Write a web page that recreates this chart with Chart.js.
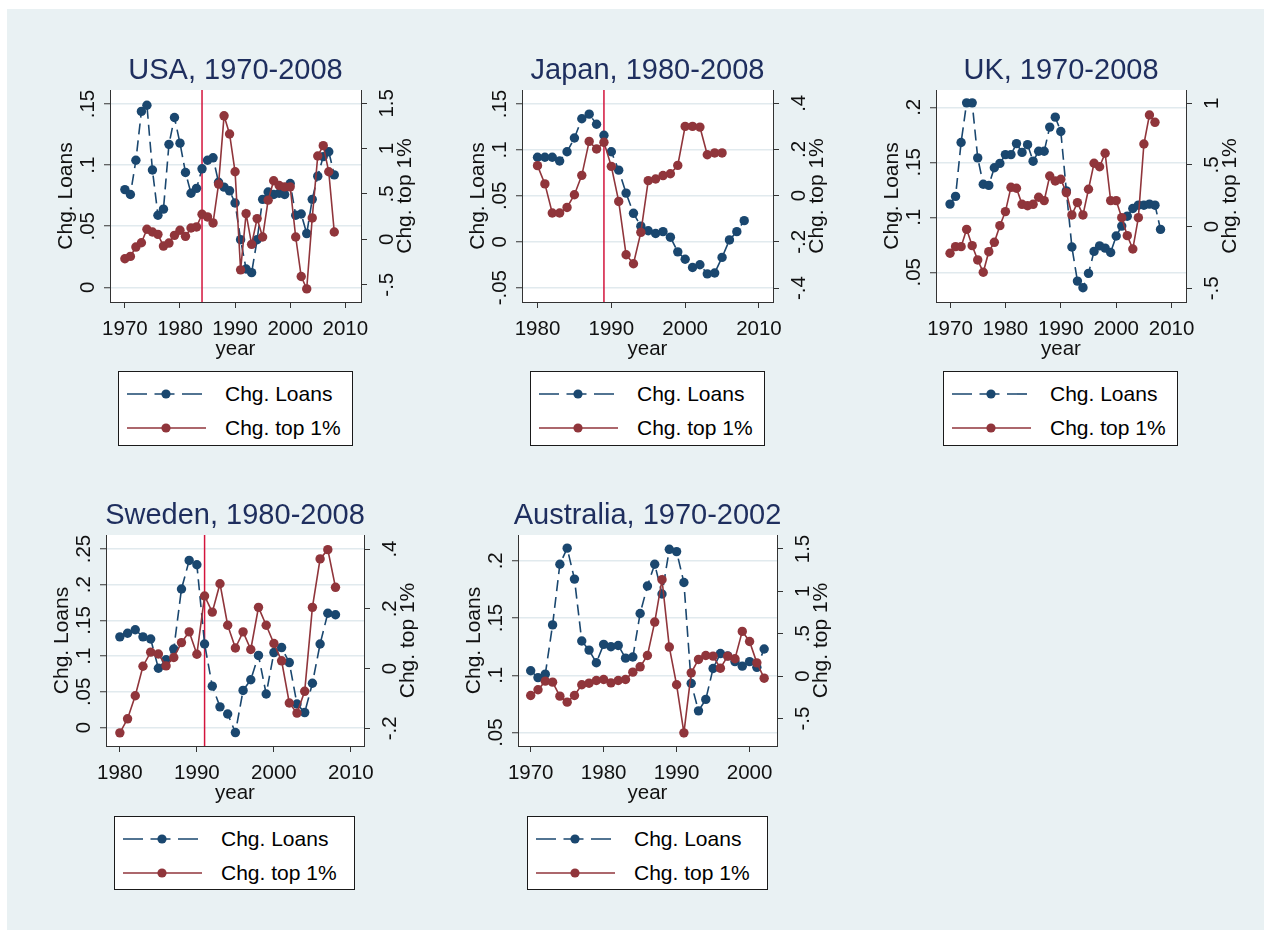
<!DOCTYPE html>
<html><head><meta charset="utf-8">
<script src="https://cdn.jsdelivr.net/npm/chart.js@4.4.0/dist/chart.umd.min.js"></script>
<style>
html,body{margin:0;padding:0;background:#fff;width:1271px;height:937px;overflow:hidden;position:relative;}
#bg{position:absolute;left:7px;top:9px;width:1257px;height:921px;background:#e9f1f3;}
canvas{position:absolute;}
.legend{position:absolute;background:#fff;border:1px solid #1a1a1a;box-sizing:border-box;font-family:"Liberation Sans",Arial,sans-serif;font-size:21px;color:#000;}
.legend .row{position:absolute;left:0;width:100%;height:30px;}
.legend svg{position:absolute;left:0;top:0;}
.legend span{position:absolute;left:106px;top:0;line-height:30px;white-space:nowrap;}
</style></head>
<body><div id="bg"></div>
<script>
// ---------- data ----------
const seriesNames = ["Chg. Loans", "Chg. top 1%"];

const usaYears = [1970,1971,1972,1973,1974,1975,1976,1977,1978,1979,1980,1981,1982,1983,1984,1985,1986,1987,1988,1989,1990,1991,1992,1993,1994,1995,1996,1997,1998,1999,2000,2001,2002,2003,2004,2005,2006,2007,2008];
const usaLoans = [0.080,0.076,0.104,0.144,0.149,0.096,0.059,0.064,0.117,0.139,0.118,0.094,0.077,0.081,0.097,0.104,0.106,0.086,0.082,0.079,0.069,0.039,0.015,0.012,0.039,0.072,0.078,0.076,0.077,0.076,0.085,0.059,0.060,0.044,0.072,0.091,0.107,0.111,0.092];
const usaTop1 = [-0.214,-0.188,-0.085,-0.037,0.111,0.081,0.055,-0.074,-0.041,0.044,0.100,0.033,0.125,0.137,0.277,0.247,0.181,0.609,1.362,1.162,0.745,-0.336,0.284,-0.055,0.229,0.026,0.432,0.646,0.594,0.579,0.579,0.026,-0.410,-0.546,0.236,0.919,1.033,0.745,0.081];
const usaBreak = 1984;

const japanYears = [1980,1981,1982,1983,1984,1985,1986,1987,1988,1989,1990,1991,1992,1993,1994,1995,1996,1997,1998,1999,2000,2001,2002,2003,2004,2005,2006,2007,2008];
const japanLoans = [0.092,0.092,0.092,0.088,0.098,0.113,0.134,0.139,0.128,0.116,0.098,0.078,0.053,0.031,0.017,0.012,0.009,0.011,0.005,-0.011,-0.019,-0.028,-0.025,-0.035,-0.034,-0.017,0.002,0.011,0.023];
const japanTop1 = [0.130,0.051,-0.075,-0.075,-0.051,0.004,0.088,0.235,0.202,0.231,0.127,-0.025,-0.256,-0.295,-0.159,0.065,0.072,0.087,0.095,0.131,0.300,0.300,0.297,0.177,0.185,0.185];
const japanBreak = 1989;

const ukYears = [1970,1971,1972,1973,1974,1975,1976,1977,1978,1979,1980,1981,1982,1983,1984,1985,1986,1987,1988,1989,1990,1991,1992,1993,1994,1995,1996,1997,1998,1999,2000,2001,2002,2003,2004,2005,2006,2007,2008];
const ukLoans = [0.112,0.119,0.168,0.204,0.204,0.154,0.130,0.129,0.145,0.149,0.157,0.157,0.167,0.159,0.166,0.151,0.160,0.160,0.182,0.191,0.178,0.124,0.073,0.042,0.036,0.049,0.069,0.074,0.072,0.068,0.083,0.092,0.101,0.108,0.111,0.111,0.112,0.111,0.089];
const ukTop1 = [-0.216,-0.162,-0.162,-0.022,-0.154,-0.270,-0.370,-0.203,-0.127,0.008,0.122,0.319,0.311,0.181,0.170,0.181,0.238,0.211,0.411,0.370,0.384,0.276,0.095,0.195,0.095,0.303,0.514,0.486,0.595,0.211,0.211,0.073,-0.073,-0.181,0.073,0.670,0.905,0.846];

const swedenYears = [1980,1981,1982,1983,1984,1985,1986,1987,1988,1989,1990,1991,1992,1993,1994,1995,1996,1997,1998,1999,2000,2001,2002,2003,2004,2005,2006,2007,2008];
const swedenLoans = [0.127,0.132,0.137,0.127,0.124,0.083,0.095,0.110,0.194,0.234,0.228,0.117,0.058,0.029,0.019,-0.007,0.052,0.067,0.101,0.047,0.105,0.112,0.091,0.033,0.021,0.062,0.117,0.160,0.158];
const swedenTop1 = [-0.215,-0.168,-0.091,0.008,0.055,0.049,0.009,0.037,0.087,0.123,0.048,0.243,0.189,0.284,0.145,0.069,0.123,0.064,0.205,0.145,0.084,0.026,-0.115,-0.149,-0.076,0.205,0.367,0.398,0.272];
const swedenBreak = 1991;

const ausYears = [1970,1971,1972,1973,1974,1975,1976,1977,1978,1979,1980,1981,1982,1983,1984,1985,1986,1987,1988,1989,1990,1991,1992,1993,1994,1995,1996,1997,1998,1999,2000,2001,2002];
const ausLoans = [0.104,0.098,0.101,0.144,0.197,0.211,0.184,0.130,0.122,0.111,0.127,0.125,0.126,0.115,0.116,0.154,0.178,0.197,0.171,0.210,0.208,0.181,0.093,0.069,0.079,0.106,0.119,0.117,0.112,0.108,0.112,0.107,0.123];
const ausTop1 = [-0.228,-0.161,-0.059,-0.071,-0.236,-0.307,-0.228,-0.102,-0.083,-0.051,-0.039,-0.079,-0.051,-0.039,0.047,0.110,0.244,0.638,1.138,0.343,-0.102,-0.669,0.039,0.197,0.244,0.236,0.094,0.236,0.205,0.528,0.409,0.157,-0.024];

// tick labels
const xTicks70 = [1970,1980,1990,2000,2010];
const xTicks80 = [1980,1990,2000,2010];
const xTicksAus = [1970,1980,1990,2000];
const usaLoanTicks = [0,0.05,0.1,0.15];
const usaTopTicks = [-0.5,0,0.5,1,1.5];
const japanLoanTicks = [-0.05,0,0.05,0.1,0.15];
const japanTopTicks = [-0.4,-0.2,0,0.2,0.4];
const ukLoanTicks = [0.05,0.1,0.15,0.2];
const ukTopTicks = [-0.5,0,0.5,1];
const swedenLoanTicks = [0,0.05,0.1,0.15,0.2,0.25];
const swedenTopTicks = [-0.2,0,0.2,0.4];
const ausLoanTicks = [0.05,0.1,0.15,0.2];
const ausTopTicks = [-0.5,0,0.5,1,1.5];

// ---------- style ----------
const fontFam = '"Liberation Sans", Arial, sans-serif';
const blue = '#1a476f', red = '#90353b', breakColor = '#d3143c';
const titleColor = '#1e2e5e', axisColor = '#333333', gridColor = '#e1eaee';

function fmt(v){
  let s = String(Math.round(v*1e6)/1e6);
  if (s.startsWith('0.')) s = s.slice(1);
  else if (s.startsWith('-0.')) s = '-' + s.slice(2);
  return s;
}

const stataPlugin = {
  id: 'stata',
  beforeDraw(chart){
    const {ctx, chartArea:a} = chart;
    ctx.save(); ctx.fillStyle = '#fff';
    ctx.fillRect(a.left, a.top, a.right-a.left, a.bottom-a.top);
    ctx.restore();
  },
  beforeDatasetsDraw(chart, args, opts){
    if (opts.breakYear == null) return;
    const {ctx, chartArea:a} = chart;
    const x = chart.scales.x.getPixelForValue(opts.breakYear);
    ctx.save(); ctx.strokeStyle = breakColor; ctx.lineWidth = 1.5;
    ctx.beginPath(); ctx.moveTo(x, a.top); ctx.lineTo(x, a.bottom); ctx.stroke();
    ctx.restore();
  },
  afterDraw(chart, args, opts){
    const {ctx, chartArea:a} = chart;
    ctx.save();
    ctx.fillStyle = '#111'; ctx.textAlign = 'center'; ctx.textBaseline = 'middle';
    const sides = [['y', a.left - 22, a.left - 44, opts.leftTitle], ['y1', a.right + 26, a.right + 44, opts.rightTitle]];
    sides.forEach(([id, lx, tx, title]) => {
      const s = chart.scales[id];
      ctx.font = '20.5px ' + fontFam;
      s.ticks.forEach(t => {
        const py = s.getPixelForValue(t.value);
        ctx.save(); ctx.translate(lx, py); ctx.rotate(-Math.PI/2);
        ctx.fillText(fmt(t.value), 0, 0); ctx.restore();
      });
      ctx.save(); ctx.translate(tx, (a.top + a.bottom)/2); ctx.rotate(-Math.PI/2);
      ctx.font = '21px ' + fontFam; ctx.fillText(title, 0, 0); ctx.restore();
    });
    ctx.restore();
  }
};

function pts(years, vals){ return vals.map((v,i) => ({x: years[i], y: v})); }

function makeChart(p){
  const {box} = p;
  const W = box.R - box.L + 140, H = box.B - box.T + 120;
  const canvas = document.createElement('canvas');
  canvas.width = W; canvas.height = H;
  canvas.style.left = (box.L - 70) + 'px'; canvas.style.top = (box.T - 60) + 'px';
  canvas.style.width = W + 'px'; canvas.style.height = H + 'px';
  document.body.appendChild(canvas);
  const tickFont = {family: fontFam, size: 20.5};
  new Chart(canvas, {
    type: 'line',
    data: { datasets: [
      { label: seriesNames[0], data: pts(p.years, p.loans), yAxisID: 'y', order: 2,
        borderColor: blue, backgroundColor: blue, borderWidth: 1.6, borderDash: [11,6],
        pointRadius: 4.7, pointBackgroundColor: blue, pointBorderWidth: 0, tension: 0, fill: false },
      { label: seriesNames[1], data: pts(p.years, p.top1), yAxisID: 'y1', order: 1,
        borderColor: red, backgroundColor: red, borderWidth: 1.6,
        pointRadius: 4.7, pointBackgroundColor: red, pointBorderWidth: 0, tension: 0, fill: false }
    ]},
    options: {
      responsive: false, animation: false, devicePixelRatio: 1,
      layout: { padding: 0 },
      events: [],
      plugins: {
        legend: { display: false }, tooltip: { enabled: false },
        title: { display: true, text: p.title, color: titleColor,
          font: { family: fontFam, size: 29, weight: 'normal', lineHeight: 1.2 },
          padding: { top: 23.2, bottom: 2 } },
        stata: { breakYear: p.breakYear, leftTitle: seriesNames[0], rightTitle: seriesNames[1] }
      },
      scales: {
        x: { type: 'linear', position: 'bottom', min: p.xRange[0], max: p.xRange[1],
          afterBuildTicks: s => { s.ticks = p.xTicks.map(v => ({value: v})); },
          afterFit: s => { s.height = 60; },
          ticks: { font: tickFont, color: '#111', padding: 9, maxRotation: 0, minRotation: 0, autoSkip: false, callback: v => String(v) },
          grid: { drawOnChartArea: false, drawTicks: true, tickLength: 6, tickColor: axisColor, tickWidth: 1 },
          border: { display: true, color: axisColor, width: 1 },
          title: { display: true, text: 'year', color: '#111', font: tickFont, padding: { top: 0, bottom: 0 } } },
        y: { type: 'linear', position: 'left', min: p.yRange[0], max: p.yRange[1],
          afterBuildTicks: s => { s.ticks = p.yTicks.map(v => ({value: v})); },
          afterFit: s => { s.width = 70; },
          ticks: { display: false },
          grid: { color: gridColor, lineWidth: 1.5, drawTicks: true, tickLength: 6, tickColor: axisColor, tickWidth: 1 },
          border: { display: true, color: axisColor, width: 1 } },
        y1: { type: 'linear', position: 'right', min: p.y1Range[0], max: p.y1Range[1],
          afterBuildTicks: s => { s.ticks = p.y1Ticks.map(v => ({value: v})); },
          afterFit: s => { s.width = 70; },
          ticks: { display: false },
          grid: { drawOnChartArea: false, drawTicks: true, tickLength: 6, tickColor: axisColor, tickWidth: 1 },
          border: { display: true, color: axisColor, width: 1 } }
      }
    },
    plugins: [stataPlugin]
  });
}

function makeLegend(left, top, width, height){
  const d = document.createElement('div');
  d.className = 'legend';
  d.style.left = left + 'px'; d.style.top = top + 'px';
  d.style.width = width + 'px'; d.style.height = height + 'px';
  const rows = [
    {name: seriesNames[0], color: blue, dash: '20 7.5', cy: 21.5},
    {name: seriesNames[1], color: red, dash: 'none', cy: 55.5}
  ];
  rows.forEach(r => {
    const row = document.createElement('div');
    row.className = 'row'; row.style.top = (r.cy - 15) + 'px';
    row.innerHTML = '<svg width="100" height="30"><line x1="8" y1="15" x2="87" y2="15" stroke="' + r.color +
      '" stroke-width="1.6"' + (r.dash !== 'none' ? ' stroke-dasharray="' + r.dash + '"' : '') +
      '/><circle cx="47" cy="15" r="4.6" fill="' + r.color + '"/></svg><span>' + r.name + '</span>';
    d.appendChild(row);
  });
  document.body.appendChild(d);
}

// ---------- panels ----------
makeChart({ title: 'USA, 1970-2008', box: {L:110, T:90, R:361, B:302},
  years: usaYears, loans: usaLoans, top1: usaTop1, breakYear: usaBreak,
  xTicks: xTicks70, yTicks: usaLoanTicks, y1Ticks: usaTopTicks,
  xRange: [1967.3, 2012.85], yRange: [-0.012, 0.1615], y1Range: [-0.6907, 1.6466] });

makeChart({ title: 'Japan, 1980-2008', box: {L:522, T:90, R:773, B:302},
  years: japanYears, loans: japanLoans, top1: japanTop1, breakYear: japanBreak,
  xTicks: xTicks80, yTicks: japanLoanTicks, y1Ticks: japanTopTicks,
  xRange: [1977.9, 2011.9], yRange: [-0.0656, 0.1653], y1Range: [-0.4606, 0.4576] });

makeChart({ title: 'UK, 1970-2008', box: {L:936, T:90, R:1186, B:302},
  years: ukYears, loans: ukLoans, top1: ukTop1, breakYear: null,
  xTicks: xTicks70, yTicks: ukLoanTicks, y1Ticks: ukTopTicks,
  xRange: [1967.47, 2012.6], yRange: [0.023, 0.2157], y1Range: [-0.611, 1.108] });

makeChart({ title: 'Sweden, 1980-2008', box: {L:106, T:535, R:364, B:746},
  years: swedenYears, loans: swedenLoans, top1: swedenTop1, breakYear: swedenBreak,
  xTicks: xTicks80, yTicks: swedenLoanTicks, y1Ticks: swedenTopTicks,
  xRange: [1978.2, 2011.7], yRange: [-0.0258, 0.2696], y1Range: [-0.259, 0.447] });

makeChart({ title: 'Australia, 1970-2002', box: {L:518, T:535, R:777, B:746},
  years: ausYears, loans: ausLoans, top1: ausTop1, breakYear: null,
  xTicks: xTicksAus, yTicks: ausLoanTicks, y1Ticks: ausTopTicks,
  xRange: [1968.26, 2003.76], yRange: [0.0383, 0.2225], y1Range: [-0.824, 1.665] });

makeLegend(118, 371, 235, 75);
makeLegend(530, 371, 235, 75);
makeLegend(943, 371, 235, 75);
makeLegend(114, 816, 241, 74);
makeLegend(527, 816, 241, 74);
</script>
</body></html>
